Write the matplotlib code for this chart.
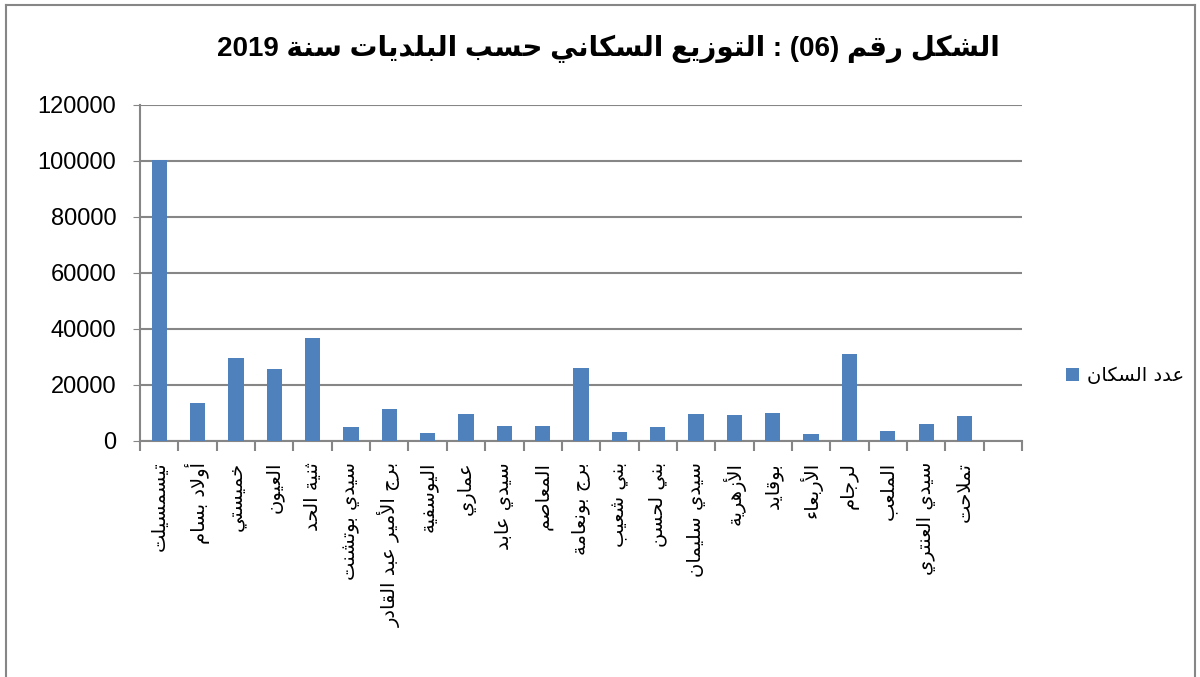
import matplotlib
matplotlib.use("Agg")
import matplotlib.pyplot as plt
from matplotlib.lines import Line2D
import numpy as np

# Data
towns = ["تيسمسيلت", "أولاد بسام", "خميستي", "العيون", "ثنية الحد", "سيدي بوتشنت",
         "برج الأمير عبد القادر", "اليوسفية", "عماري", "سيدي عابد", "المعاصم",
         "برج بونعامة", "بني شعيب", "بني لحسن", "سيدي سليمان", "الأزهرية",
         "بوقايد", "الأربعاء", "لرجام", "الملعب", "سيدي العنتري", "تملاحت"]
population = [100400, 13400, 29800, 25600, 36900, 5000, 11400, 2750, 9500, 5400,
              5300, 26000, 3100, 5000, 9800, 9400, 9900, 2650, 30900, 3500, 5900, 8800]
title = "الشكل رقم (06) : التوزيع السكاني حسب البلديات سنة 2019"
series_name = "عدد السكان"

# minimal Arabic shaping (matplotlib has no complex text layout)
DUAL = {'ئ': 0xFE89, 'ب': 0xFE8F, 'ت': 0xFE95, 'ث': 0xFE99, 'ج': 0xFE9D, 'ح': 0xFEA1,
        'خ': 0xFEA5, 'س': 0xFEB1, 'ش': 0xFEB5, 'ص': 0xFEB9, 'ض': 0xFEBD, 'ط': 0xFEC1,
        'ظ': 0xFEC5, 'ع': 0xFEC9, 'غ': 0xFECD, 'ف': 0xFED1, 'ق': 0xFED5, 'ك': 0xFED9,
        'ل': 0xFEDD, 'م': 0xFEE1, 'ن': 0xFEE5, 'ه': 0xFEE9, 'ي': 0xFEF1}
RIGHT = {'آ': 0xFE81, 'أ': 0xFE83, 'ؤ': 0xFE85, 'إ': 0xFE87, 'ا': 0xFE8D, 'ة': 0xFE93,
         'د': 0xFEA9, 'ذ': 0xFEAB, 'ر': 0xFEAD, 'ز': 0xFEAF, 'و': 0xFEED, 'ى': 0xFEEF}
LAM_ALEF = {'آ': 0xFEF5, 'أ': 0xFEF7, 'إ': 0xFEF9, 'ا': 0xFEFB}


def shape_word(w):
    units = []
    i = 0
    while i < len(w):
        if w[i] == 'ل' and i + 1 < len(w) and w[i + 1] in LAM_ALEF:
            units.append(('LA', LAM_ALEF[w[i + 1]]))
            i += 2
        else:
            units.append(w[i])
            i += 1
    out = []
    for k, u in enumerate(units):
        prev = units[k - 1] if k > 0 else None
        nxt = units[k + 1] if k + 1 < len(units) else None
        jp = isinstance(prev, str) and prev in DUAL
        if isinstance(u, tuple):
            out.append(chr(u[1] + (1 if jp else 0)))
        elif u in DUAL:
            jn = nxt is not None and (isinstance(nxt, tuple) or nxt in DUAL or nxt in RIGHT)
            idx = {(False, False): 0, (True, False): 1, (False, True): 2, (True, True): 3}[(jp, jn)]
            out.append(chr(DUAL[u] + idx))
        elif u in RIGHT:
            out.append(chr(RIGHT[u] + (1 if jp else 0)))
        else:
            out.append(u)
    return ''.join(out)


def ar(text):
    tokens = text.split(' ')
    res = []
    for t in reversed(tokens):
        if any('\u0600' <= c <= '\u06FF' for c in t):
            res.append(shape_word(t)[::-1])
        else:
            res.append(t)
    return ' '.join(res)


plt.rcParams['font.family'] = ['Liberation Sans', 'DejaVu Sans']

fig = plt.figure(figsize=(12, 6.77), dpi=100)
ax = fig.add_axes([0.1167, 0.3486, 0.735, 0.4964])

x = np.arange(len(towns))
ax.bar(x, population, width=0.4, color='#4F81BD', zorder=3, label=ar(series_name))

ax.set_xlim(-0.5, len(towns) + 0.5)
ax.set_ylim(0, 120000)
ax.set_yticks(np.arange(0, 120001, 20000))
ax.tick_params(axis='y', labelsize=17, length=5, color='#868686', pad=12)
ax.yaxis.grid(True, color='#868686', linewidth=1.5, zorder=0)

ax.set_xticks(x)
ax.set_xticklabels([ar(t) for t in towns], rotation=90, fontsize=14,
                   family=['DejaVu Sans'], va='top', ha='center')
ax.tick_params(axis='x', which='major', length=0, pad=15)
ax.set_xticks(np.arange(-0.5, len(towns) + 1, 1), minor=True)
ax.tick_params(axis='x', which='minor', length=7, color='#868686', width=1.5)

for s in ['top', 'right']:
    ax.spines[s].set_visible(False)
for s in ['left', 'bottom']:
    ax.spines[s].set_color('#868686')
    ax.spines[s].set_linewidth(1.5)

fig.text(0.507, 0.928, ar(title), ha='center', va='center', fontsize=20,
         fontweight='bold', family=['Liberation Sans', 'DejaVu Sans'])

fig.legend(loc='center left', bbox_to_anchor=(0.888, 0.445), frameon=False,
           handlelength=0.7, handleheight=0.7, handletextpad=0.4,
           borderpad=0, borderaxespad=0,
           prop={'family': ['DejaVu Sans'], 'size': 14})

# chart area border
for xs, ys in [([0.005, 0.005], [0.0, 0.993]), ([0.005, 0.996], [0.993, 0.993]),
               ([0.996, 0.996], [0.0, 0.993])]:
    fig.add_artist(Line2D(xs, ys, color='#868686', linewidth=1.5, transform=fig.transFigure))

fig.savefig('out.png', dpi=100, facecolor='white')
